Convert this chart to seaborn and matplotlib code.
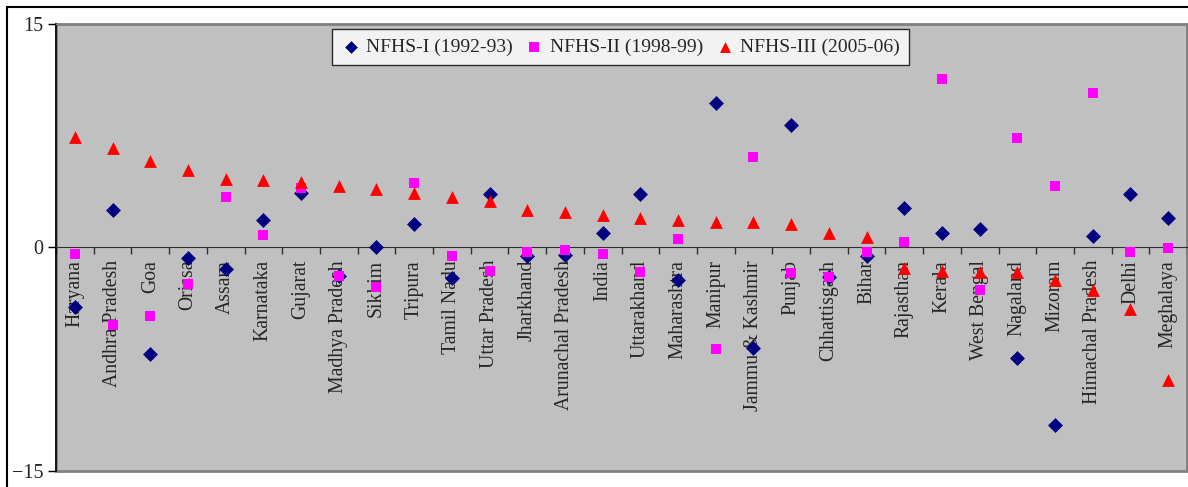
import pandas as pd
import numpy as np
import matplotlib
matplotlib.use("Agg")
import matplotlib.pyplot as plt
import seaborn as sns
from matplotlib.patches import Rectangle

# Data
states = ["Haryana", "Andhra Pradesh", "Goa", "Orissa", "Assam", "Karnataka",
          "Gujarat", "Madhya Pradesh", "Sikkim", "Tripura", "Tamil Nadu",
          "Uttar Pradesh", "Jharkhand", "Arunachal Pradesh", "India",
          "Uttarakhand", "Maharashtra", "Manipur", "Jammu & Kashmir", "Punjab",
          "Chhattisgarh", "Bihar", "Rajasthan", "Kerala", "West Bengal",
          "Nagaland", "Mizoram", "Himachal Pradesh", "Delhi", "Meghalaya"]

nfhs1 = [-4.0, 2.5, -7.15, -0.7, -1.45, 1.85, 3.65, -1.9, 0.0, 1.6, -2.05,
         3.6, -0.55, -0.5, 0.95, 3.6, -2.2, 9.7, -6.75, 8.2, -1.95, -0.6,
         2.65, 1.0, 1.25, -7.4, -11.9, 0.8, 3.6, 2.0]
nfhs2 = [-0.45, -5.2, -4.6, -2.45, 3.4, 0.85, 4.0, -1.9, -2.65, 4.3, -0.6,
         -1.6, -0.3, -0.15, -0.45, -1.65, 0.6, -6.8, 6.1, -1.7, -1.95, -0.3,
         0.35, 11.3, -2.85, 7.35, 4.1, 10.4, -0.3, -0.05]
nfhs3 = [7.4, 6.7, 5.8, 5.2, 4.6, 4.5, 4.4, 4.1, 3.9, 3.65, 3.4, 3.1, 2.5,
         2.4, 2.2, 2.0, 1.85, 1.7, 1.7, 1.6, 1.0, 0.7, -1.4, -1.6, -1.65,
         -1.65, -2.2, -2.85, -4.1, -8.9]

series = ["NFHS-I (1992-93)", "NFHS-II (1998-99)", "NFHS-III (2005-06)"]
colors = ["#000080", "#FF00FF", "#FF0000"]
markers = ["D", "s", "^"]
sizes = [58, 62, 85]

df = pd.DataFrame({
    "State": states * 3,
    "Value": nfhs1 + nfhs2 + nfhs3,
    "Survey": np.repeat(series, len(states)),
})

sns.set_style("white")
plt.rcParams['font.family'] = ['Liberation Serif', 'DejaVu Serif']

fig = plt.figure(figsize=(11.88, 4.87), dpi=100)
ax = fig.add_axes([56 / 1188, 1 - 471 / 487, (1187 - 56) / 1188, (471 - 24) / 487])
ax.set_facecolor("#C0C0C0")

for name, col, mk, sz in zip(series, colors, markers, sizes):
    sns.scatterplot(data=df[df["Survey"] == name], x="State", y="Value",
                    color=col, marker=mk, s=sz, linewidth=0, ax=ax,
                    label=name, zorder=3)

ax.set_xlim(-0.5, len(states) - 0.5)
ax.set_ylim(-15, 15)
ax.set_xlabel("")
ax.set_ylabel("")

# y axis
ax.set_yticks([-15, 0, 15])
ax.tick_params(axis="y", direction="out", length=6, width=1, labelsize=14.5,
               left=True, color="black", pad=3)

# x axis crosses at zero
ax.spines["bottom"].set_position(("data", 0))
ax.spines["bottom"].set_color("#303030")
ax.spines["left"].set_color("black")
ax.spines["left"].set_linewidth(1.2)
ax.spines["top"].set_color("#808080")
ax.spines["right"].set_color("#808080")
ax.patch.set_edgecolor("#808080")
ax.patch.set_linewidth(2)
ax.set_xticks(range(len(states)))
ax.set_xticklabels(states, rotation=90, ha="center", va="top", fontsize=14.2)
ax.set_xticks(np.arange(-0.5, len(states), 1), minor=True)
ax.tick_params(axis="x", which="major", length=0, pad=9)
ax.tick_params(axis="x", which="minor", direction="out", length=5, width=1,
               color="#303030", bottom=True)

leg = ax.legend(loc="upper center", ncol=3, frameon=True, fancybox=False,
                fontsize=14, handletextpad=0.3, columnspacing=0.6,
                borderpad=0.45, borderaxespad=0, bbox_to_anchor=(0.499, 0.988),
                handlelength=1.0, markerscale=0.85)
leg.get_frame().set_edgecolor("black")
leg.get_frame().set_linewidth(1)

# outer chart frame
fig.patches.append(Rectangle((7 / 1188, -0.1), 1.2, 1 - 7 / 487 + 0.1,
                             transform=fig.transFigure, fill=False,
                             edgecolor="black", linewidth=1.5))

fig.savefig("out.png", dpi=100)
